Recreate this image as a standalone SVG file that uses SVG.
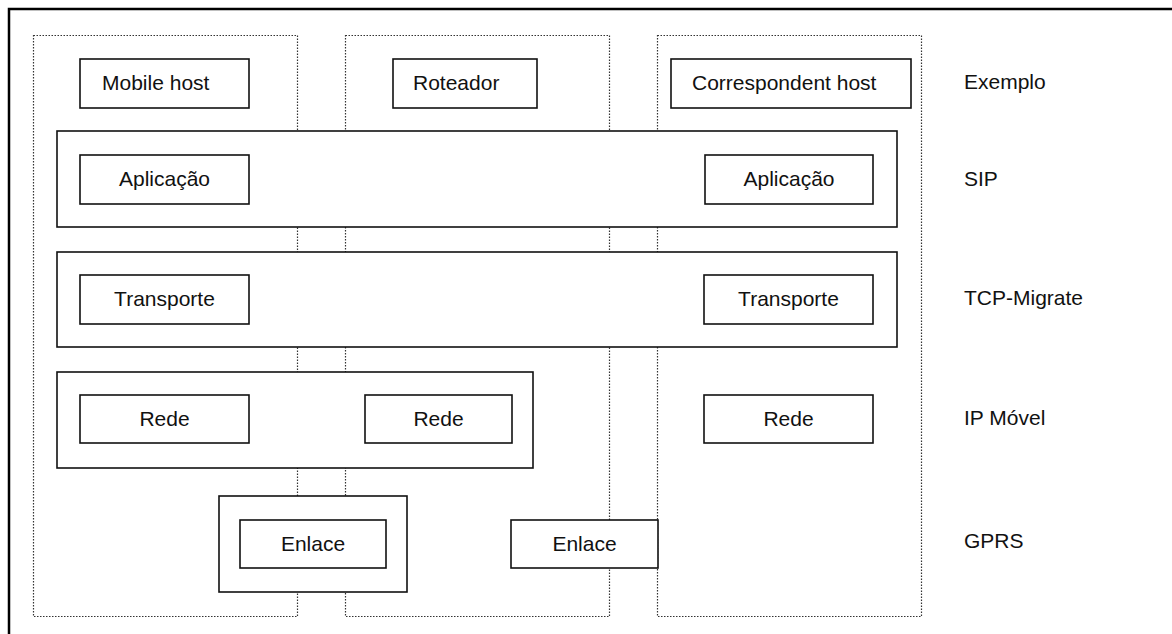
<svg xmlns="http://www.w3.org/2000/svg" width="1172" height="634" viewBox="0 0 1172 634">
  <style>
    .frame { fill: none; stroke: #000; stroke-width: 2.5; }
    .col { fill: none; stroke: #333; stroke-width: 1.2; stroke-dasharray: 1.5 1.5; }
    .box { fill: #fff; stroke: #111; stroke-width: 1.6; }
    .t { font-family: "Liberation Sans", Arial, sans-serif; font-size: 21px; fill: #111; }
    .c { text-anchor: middle; }
  </style>
  <rect width="1172" height="634" fill="#fff"/>
  <!-- outer frame -->
  <rect class="frame" x="9" y="9" width="1180" height="640"/>

  <!-- host columns (dotted) -->
  <g id="columns">
    <rect class="col" x="33.5" y="35.5" width="264" height="581"/>
    <rect class="col" x="345.5" y="35.5" width="264" height="581"/>
    <rect class="col" x="657.5" y="35.5" width="264" height="581"/>
  </g>

  <!-- example row -->
  <g id="mobile-host">
    <rect class="box" x="80" y="59" width="169" height="49"/>
    <text class="t" x="102" y="90">Mobile host</text>
  </g>
  <g id="roteador">
    <rect class="box" x="393" y="59" width="144" height="49"/>
    <text class="t" x="413" y="90">Roteador</text>
  </g>
  <g id="correspondent-host">
    <rect class="box" x="671" y="59" width="240" height="49"/>
    <text class="t" x="692" y="90">Correspondent host</text>
  </g>

  <!-- SIP layer -->
  <g id="sip">
    <rect class="box" x="57" y="131" width="840" height="96"/>
    <rect class="box" x="80" y="155" width="169" height="49"/>
    <text class="t c" x="164.5" y="186">Aplicação</text>
    <rect class="box" x="705" y="155" width="168" height="49"/>
    <text class="t c" x="789" y="186">Aplicação</text>
  </g>

  <!-- TCP-Migrate layer -->
  <g id="tcp-migrate">
    <rect class="box" x="57" y="252" width="840" height="95"/>
    <rect class="box" x="80" y="275" width="169" height="49"/>
    <text class="t c" x="164.5" y="306">Transporte</text>
    <rect class="box" x="704" y="275" width="169" height="49"/>
    <text class="t c" x="788.5" y="306">Transporte</text>
  </g>

  <!-- Mobile IP layer -->
  <g id="ip-movel">
    <rect class="box" x="57" y="372" width="476" height="96"/>
    <rect class="box" x="80" y="395" width="169" height="48"/>
    <text class="t c" x="164.5" y="426">Rede</text>
    <rect class="box" x="365" y="395" width="147" height="48"/>
    <text class="t c" x="438.5" y="426">Rede</text>
  </g>
  <g id="rede-ch">
    <rect class="box" x="704" y="395" width="169" height="48"/>
    <text class="t c" x="788.5" y="426">Rede</text>
  </g>

  <!-- GPRS layer -->
  <g id="gprs">
    <rect class="box" x="219" y="496" width="188" height="96"/>
    <rect class="box" x="240" y="520" width="146" height="48"/>
    <text class="t c" x="313" y="551">Enlace</text>
  </g>
  <g id="enlace-router">
    <rect class="box" x="511" y="520" width="147" height="48"/>
    <text class="t c" x="584.5" y="551">Enlace</text>
  </g>

  <!-- layer names -->
  <g id="layer-labels">
    <text class="t" x="964" y="89">Exemplo</text>
    <text class="t" x="964" y="186">SIP</text>
    <text class="t" x="964" y="305">TCP-Migrate</text>
    <text class="t" x="964" y="425">IP Móvel</text>
    <text class="t" x="964" y="548">GPRS</text>
  </g>
</svg>
